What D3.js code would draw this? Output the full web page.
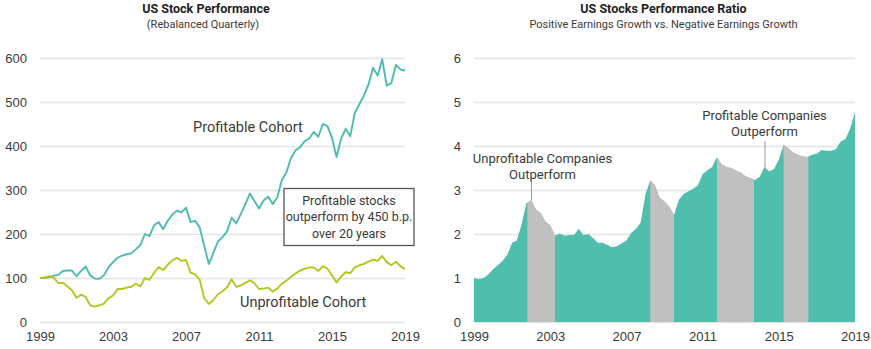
<!DOCTYPE html>
<html>
<head>
<meta charset="utf-8">
<script src="https://cdn.jsdelivr.net/npm/d3@7"></script>
<style>
  html, body { margin: 0; padding: 0; background: #fff; }
  svg { display: block; font-family: Roboto, "Noto Sans", sans-serif; }
</style>
</head>
<body>
<svg id="chart" width="871" height="349"></svg>
<script>
// ---------- DATA ----------
const startYear = 1999;
const endYear = 2019;
const xTickYears = [1999, 2003, 2007, 2011, 2015, 2019];
const leftYTicks = [0, 100, 200, 300, 400, 500, 600];
const rightYTicks = [0, 1, 2, 3, 4, 5, 6];

// Quarterly values, 1999 Q1 .. 2019 Q1 (81 points)
const profitable = [100,100,102,105,107,116,117,117,104,116,126,106,99,98,106,124,
  136,146,151,154,156,165,175,200,195,220,227,211,230,244,253,249,
  260,227,230,215,173,132,157,183,193,206,237,224,245,268,292,275,
  258,276,285,268,283,322,340,372,390,397,411,417,432,421,450,445,
  418,375,417,439,422,475,495,515,540,578,560,597,537,543,584,574,571];
const unprofitable = [100,101,104,101,88,89,81,72,55,62,57,38,35,38,42,54,
  60,75,75,78,80,87,81,100,96,112,125,118,130,140,146,139,
  141,112,108,96,54,41,50,63,70,79,97,80,83,89,95,88,
  75,76,78,69,76,87,94,102,110,117,121,124,124,116,127,121,
  106,90,103,113,111,124,129,132,137,142,139,150,136,129,137,127,120];
const ratio = [1.00,0.97,1.00,1.08,1.20,1.29,1.39,1.53,1.80,1.85,2.22,2.70,2.77,2.55,2.48,2.28,
  2.20,1.96,2.01,1.96,1.98,1.98,2.12,1.97,2.00,1.91,1.80,1.80,1.75,1.70,1.72,1.79,
  1.85,2.02,2.12,2.26,2.90,3.22,3.10,2.82,2.74,2.62,2.43,2.77,2.91,2.97,3.03,3.10,
  3.36,3.45,3.52,3.75,3.58,3.52,3.50,3.44,3.40,3.31,3.27,3.23,3.30,3.52,3.42,3.48,
  3.69,4.03,3.95,3.85,3.80,3.76,3.75,3.80,3.83,3.91,3.89,3.89,3.93,4.10,4.16,4.40,4.78];
// periods in which unprofitable companies outperform (grey)
const grayPeriods = [[2001.8, 2003.25], [2008.25, 2009.5], [2011.75, 2013.7], [2015.25, 2016.55]];

const leftTitle = "US Stock Performance";
const leftSubtitle = "(Rebalanced Quarterly)";
const rightTitle = "US Stocks Performance Ratio";
const rightSubtitle = "Positive Earnings Growth vs. Negative Earnings Growth";
const boxLines = ["Profitable stocks", "outperform by 450 b.p.", "over 20 years"];

// ---------- STYLE ----------
const teal = "#4dbcae";
const tealFill = "#50bead";
const lime = "#b3c71f";
const grey = "#c0c0c0";
const gridCol = "#e4e4e4";
const textCol = "#3a3a3a";

const svg = d3.select("#chart");
const quarterYear = i => startYear + i / 4;

// ---------- LEFT CHART ----------
const xL = d3.scaleLinear().domain([startYear, endYear]).range([40, 405]);
const yL = d3.scaleLinear().domain([0, 600]).range([322, 58]);

const gL = svg.append("g");
gL.append("g")
  .attr("transform", `translate(${xL.range()[0]},0)`)
  .call(d3.axisLeft(yL).tickValues(leftYTicks).tickFormat(d3.format("d"))
    .tickSize(-(xL.range()[1] - xL.range()[0])).tickPadding(13))
  .call(g => g.select(".domain").remove())
  .call(g => g.selectAll(".tick line").attr("stroke", gridCol).attr("stroke-width", 1.6))
  .call(g => g.selectAll(".tick text").attr("fill", textCol).attr("font-size", 13).attr("dy", "0.35em"));

gL.append("g")
  .attr("transform", `translate(0,322)`)
  .call(d3.axisBottom(xL).tickValues(xTickYears).tickFormat(d3.format("d")).tickSize(0).tickPadding(10))
  .call(g => g.select(".domain").remove())
  .call(g => g.selectAll(".tick text").attr("fill", textCol).attr("font-size", 13));

const lineL = d3.line().x((d, i) => xL(quarterYear(i))).y(d => yL(d));
gL.append("path").datum(profitable).attr("d", lineL)
  .attr("fill", "none").attr("stroke", teal).attr("stroke-width", 1.9).attr("stroke-linejoin", "round");
gL.append("path").datum(unprofitable).attr("d", lineL)
  .attr("fill", "none").attr("stroke", lime).attr("stroke-width", 1.9).attr("stroke-linejoin", "round");

gL.append("text").attr("x", 193).attr("y", 127).attr("dy", "0.35em")
  .attr("font-size", 14.5).attr("fill", textCol).text("Profitable Cohort");
gL.append("text").attr("x", 240).attr("y", 301.5).attr("dy", "0.35em")
  .attr("font-size", 14.5).attr("fill", textCol).text("Unprofitable Cohort");

// annotation box
gL.append("rect").attr("x", 284).attr("y", 188.5).attr("width", 130).attr("height", 57)
  .attr("fill", "#fff").attr("stroke", "#555").attr("stroke-width", 1.3);
gL.selectAll("text.box").data(boxLines).join("text").attr("class", "box")
  .attr("x", 349).attr("y", (d, i) => 200.5 + i * 16.5).attr("dy", "0.35em")
  .attr("text-anchor", "middle").attr("font-size", 12.5).attr("fill", textCol).text(d => d);

gL.append("text").attr("x", 206).attr("y", 9).attr("dy", "0.35em").attr("text-anchor", "middle")
  .attr("font-size", 12.5).attr("font-weight", "bold").attr("fill", "#222").text(leftTitle);
gL.append("text").attr("x", 203).attr("y", 24).attr("dy", "0.35em").attr("text-anchor", "middle")
  .attr("font-size", 11).attr("fill", textCol).text(leftSubtitle);

// ---------- RIGHT CHART ----------
const xR = d3.scaleLinear().domain([startYear, endYear]).range([474, 855]);
const yR = d3.scaleLinear().domain([0, 6]).range([322, 58]);

const gR = svg.append("g");
gR.append("g")
  .attr("transform", `translate(${xR.range()[0]},0)`)
  .call(d3.axisLeft(yR).tickValues(rightYTicks).tickFormat(d3.format("d"))
    .tickSize(-(xR.range()[1] - xR.range()[0])).tickPadding(13))
  .call(g => g.select(".domain").remove())
  .call(g => g.selectAll(".tick line").attr("stroke", gridCol).attr("stroke-width", 1.6))
  .call(g => g.selectAll(".tick text").attr("fill", textCol).attr("font-size", 13).attr("dy", "0.35em"));

gR.append("g")
  .attr("transform", `translate(0,322)`)
  .call(d3.axisBottom(xR).tickValues(xTickYears).tickFormat(d3.format("d")).tickSize(0).tickPadding(10))
  .call(g => g.select(".domain").remove())
  .call(g => g.selectAll(".tick text").attr("fill", textCol).attr("font-size", 13));

const areaR = d3.area().x((d, i) => xR(quarterYear(i))).y0(yR(0)).y1(d => yR(d));
gR.append("path").datum(ratio).attr("d", areaR).attr("fill", tealFill);

const defs = svg.append("defs");
grayPeriods.forEach((p, k) => {
  defs.append("clipPath").attr("id", "gp" + k)
    .append("rect").attr("x", xR(p[0])).attr("y", 0)
    .attr("width", xR(p[1]) - xR(p[0])).attr("height", 349);
  gR.append("path").datum(ratio).attr("d", areaR).attr("fill", grey)
    .attr("clip-path", `url(#gp${k})`);
});

// annotations
gR.append("line").attr("x1", 531.5).attr("x2", 531.5).attr("y1", 182).attr("y2", yR(2.77))
  .attr("stroke", "#9a9a9a").attr("stroke-width", 1);
gR.append("text").attr("x", 542.5).attr("y", 158.5).attr("dy", "0.35em").attr("text-anchor", "middle")
  .attr("font-size", 13).attr("fill", textCol).text("Unprofitable Companies");
gR.append("text").attr("x", 542.5).attr("y", 174.5).attr("dy", "0.35em").attr("text-anchor", "middle")
  .attr("font-size", 13).attr("fill", textCol).text("Outperform");

gR.append("line").attr("x1", 765).attr("x2", 765).attr("y1", 141).attr("y2", yR(3.5))
  .attr("stroke", "#9a9a9a").attr("stroke-width", 1);
gR.append("text").attr("x", 764.5).attr("y", 115).attr("dy", "0.35em").attr("text-anchor", "middle")
  .attr("font-size", 13).attr("fill", textCol).text("Profitable Companies");
gR.append("text").attr("x", 764.5).attr("y", 131.5).attr("dy", "0.35em").attr("text-anchor", "middle")
  .attr("font-size", 13).attr("fill", textCol).text("Outperform");

gR.append("text").attr("x", 663.5).attr("y", 9).attr("dy", "0.35em").attr("text-anchor", "middle")
  .attr("font-size", 12.5).attr("font-weight", "bold").attr("fill", "#222").text(rightTitle);
gR.append("text").attr("x", 663.5).attr("y", 24).attr("dy", "0.35em").attr("text-anchor", "middle")
  .attr("font-size", 11).attr("fill", textCol).text(rightSubtitle);
</script>
</body>
</html>
